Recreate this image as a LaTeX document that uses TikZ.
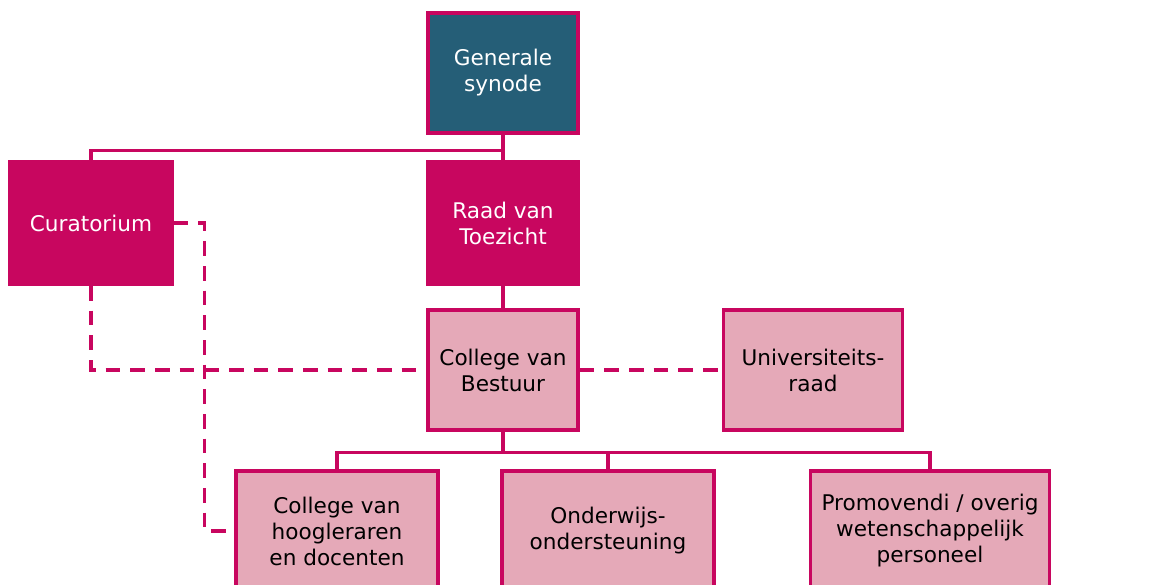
\documentclass[tikz,border=0pt]{standalone}
\usepackage{fontspec}
\setmainfont{DejaVu Sans}
\usetikzlibrary{positioning}

\definecolor{vuMagenta}{RGB}{200,6,95}
\definecolor{vuTeal}{RGB}{37,94,119}
\definecolor{vuPink}{RGB}{229,169,184}

\begin{document}
\begin{tikzpicture}[
    x=0.75pt, y=-0.75pt,
    orgbox/.style={rectangle, align=center, inner sep=2pt, line width=2.6pt,
        font=\fontsize{16.2}{19.5}\selectfont},
    topbox/.style={orgbox, fill=vuTeal, draw=vuMagenta, text=white, minimum width=112.5pt, minimum height=90pt},
    boardbox/.style={orgbox, fill=vuMagenta, draw=vuMagenta, text=white, minimum height=92pt},
    unitbox/.style={orgbox, fill=vuPink, draw=vuMagenta, text=black, minimum height=90pt},
    link/.style={draw=vuMagenta, line width=2.4pt},
    dashlink/.style={link, dash pattern=on 11pt off 7.5pt}
]
    \clip (0,0) rectangle (1171,585);

    \node[topbox] (synode) at (503,73) {Generale\\synode};
    \node[boardbox, minimum width=121.5pt] (curator) at (91,223) {Curatorium};
    \node[boardbox, minimum width=112.5pt] (toezicht) at (503,223) {Raad van\\Toezicht};
    \node[unitbox, minimum width=112.5pt] (bestuur) at (503,370) {College van\\Bestuur};
    \node[unitbox, minimum width=134pt] (uraad) at (813,370) {Universiteits-\\raad};
    \node[unitbox, minimum width=151.5pt] (hoogl) at (337,531) {College van\\hoogleraren\\en docenten};
    \node[unitbox, minimum width=159pt] (ondst) at (608,531) {Onderwijs-\\ondersteuning};
    \node[unitbox, minimum width=179pt] (promov) at (930,531) {Promovendi / overig\\wetenschappelijk\\personeel};

    % solid lines
    \draw[link] (synode.south) -- (toezicht.north);
    \draw[link] (synode.south) ++(0,16) -| (curator.north);
    \draw[link] (toezicht.south) -- (bestuur.north);
    \draw[link] (bestuur.south) -- ++(0,21) coordinate (split);
    \draw[link] (split) -| (hoogl.north);
    \draw[link] (split) -| (ondst.north);
    \draw[link] (split) -| (promov.north);

    % dashed lines
    \draw[dashlink] (curator.south) |- (bestuur.west);
    \draw[dashlink] (bestuur.east) -- (uraad.west);
    \draw[dashlink] (curator.east) -- ++(31,0) |- (hoogl.west);
\end{tikzpicture}
\end{document}
